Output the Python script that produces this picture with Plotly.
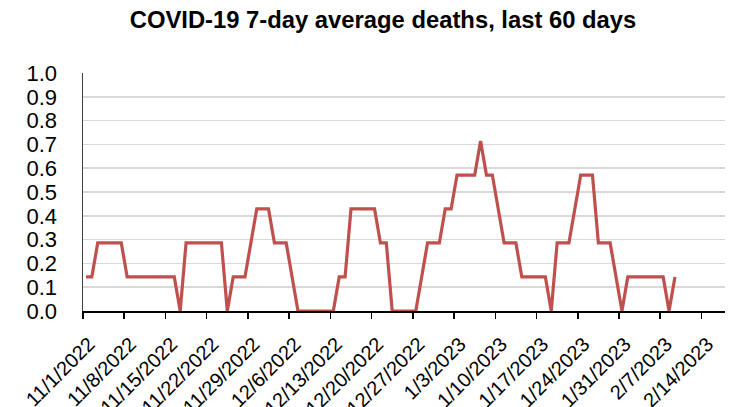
import pandas as pd
import plotly.graph_objects as go

# 7-day average deaths, one value per day starting 11/1/2022
start_date = "2022-11-01"
avg_deaths = [
    0.143, 0.143, 0.286, 0.286, 0.286, 0.286, 0.286, 0.143, 0.143, 0.143,
    0.143, 0.143, 0.143, 0.143, 0.143, 0.143, 0.000, 0.286, 0.286, 0.286,
    0.286, 0.286, 0.286, 0.286, 0.000, 0.143, 0.143, 0.143, 0.286, 0.429,
    0.429, 0.429, 0.286, 0.286, 0.286, 0.143, 0.000, 0.000, 0.000, 0.000,
    0.000, 0.000, 0.000, 0.143, 0.143, 0.429, 0.429, 0.429, 0.429, 0.429,
    0.286, 0.286, 0.000, 0.000, 0.000, 0.000, 0.000, 0.143, 0.286, 0.286,
    0.286, 0.429, 0.429, 0.571, 0.571, 0.571, 0.571, 0.714, 0.571, 0.571,
    0.429, 0.286, 0.286, 0.286, 0.143, 0.143, 0.143, 0.143, 0.143, 0.000,
    0.286, 0.286, 0.286, 0.429, 0.571, 0.571, 0.571, 0.286, 0.286, 0.286,
    0.143, 0.000, 0.143, 0.143, 0.143, 0.143, 0.143, 0.143, 0.143, 0.000,
    0.143,
]
x_range = ["2022-11-01", "2023-02-18"]
title_text = "COVID-19 7-day average deaths, last 60 days"

# Points sit in the middle of each day's slot (Excel "between tick marks")
dates = pd.date_range(start_date, periods=len(avg_deaths), freq="D") + pd.Timedelta(hours=12)

FONT = "Liberation Sans, Arial, sans-serif"

fig = go.Figure(
    go.Scatter(
        x=dates,
        y=avg_deaths,
        mode="lines",
        line=dict(color="#c0504d", width=3.2),
        hoverinfo="skip",
    )
)

fig.update_layout(
    width=730,
    height=407,
    margin=dict(l=83, r=5, t=73, b=96),
    paper_bgcolor="white",
    plot_bgcolor="white",
    showlegend=False,
    title=dict(
        text="<b>" + title_text + "</b>",
        font=dict(family=FONT, size=23.8, color="black"),
        xref="container", x=383 / 730, xanchor="center",
        yref="container", y=1 - 20 / 407, yanchor="middle",
    ),
    font=dict(family=FONT, color="black"),
)

fig.update_xaxes(
    type="date",
    range=x_range,
    tick0=start_date,
    dtick=7 * 86400000,
    tickformat="%-m/%-d/%Y",
    tickangle=-45,
    tickfont=dict(family=FONT, size=20, color="black"),
    ticks="outside",
    ticklen=6,
    tickwidth=1.5,
    tickcolor="black",
    ticklabelstandoff=6,
    ticklabelshift=6,
    showline=True,
    linecolor="black",
    linewidth=1.5,
    showgrid=False,
    zeroline=False,
    automargin=False,
)

fig.update_yaxes(
    range=[0, 1.0],
    dtick=0.1,
    tick0=0,
    tickformat=".1f",
    tickfont=dict(family=FONT, size=22, color="black"),
    ticks="",
    ticklabelstandoff=20,
    showline=True,
    linecolor="#404040",
    linewidth=1.5,
    showgrid=True,
    gridcolor="#d9d9d9",
    gridwidth=1.5,
    zeroline=False,
    automargin=False,
)

fig.write_html(
    "out.html",
    config={"displayModeBar": False, "staticPlot": True},
    post_script="document.body.style.margin='0';document.body.style.overflow='hidden';",
)
